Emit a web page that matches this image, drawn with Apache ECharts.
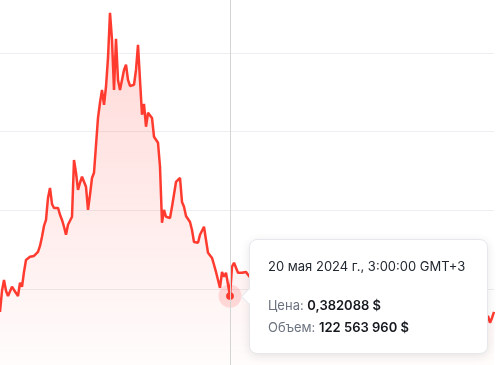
<!DOCTYPE html>
<html>
<head>
<meta charset="utf-8">
<script src="https://cdn.jsdelivr.net/npm/echarts@6/dist/echarts.min.js"></script>
<style>
  html, body { margin: 0; padding: 0; background: #fff; overflow: hidden; }
  #chart { width: 496px; height: 365px; }
</style>
</head>
<body>
<div id="chart"></div>
<script>
// ---- data ----
// hourly points, start: 15 May 2024 08:00 GMT+3 (05:00 UTC)
const startUtcMs = Date.UTC(2024, 4, 15, 5, 0, 0);
const stepHours = 1;
const prices = [
  0.3781, 0.3834, 0.3861, 0.3834, 0.3821, 0.3824, 0.3844, 0.3836, 0.3836, 0.3821,
  0.3854, 0.3844, 0.3881, 0.3911, 0.3906, 0.3919, 0.3916, 0.3921, 0.3921, 0.3931,
  0.3946, 0.3969, 0.3996, 0.4011, 0.4066, 0.4091, 0.4051, 0.4041, 0.4046, 0.4041,
  0.4024, 0.4011, 0.3994, 0.3974, 0.3999, 0.4004, 0.4019, 0.4161, 0.4129, 0.4086,
  0.4104, 0.4119, 0.4116, 0.4094, 0.4036, 0.4074, 0.4116, 0.4129, 0.4129, 0.4266,
  0.4304, 0.4336, 0.4299, 0.4344, 0.4416, 0.4529, 0.4461, 0.4336, 0.4464, 0.4361,
  0.4336, 0.4361, 0.4386, 0.4399, 0.4361, 0.4346, 0.4344, 0.4349, 0.4386, 0.4449,
  0.4361, 0.4274, 0.4301, 0.4244, 0.4279, 0.4281, 0.4266, 0.4219, 0.4224, 0.4204,
  0.4144, 0.4004, 0.4036, 0.4019, 0.4019, 0.4016, 0.4044, 0.4049, 0.4106, 0.4111,
  0.4116, 0.4056, 0.4044, 0.4021, 0.4019, 0.4006, 0.3986, 0.3956, 0.3954, 0.3954,
  0.3974, 0.3976, 0.3994, 0.3961, 0.3929, 0.3924, 0.3916, 0.3899, 0.3881, 0.3861,
  0.3841, 0.3881, 0.3869, 0.3879, 0.3881, 0.382088, 0.3894, 0.3904, 0.3901, 0.3879,
  0.3876, 0.3879, 0.3881, 0.3881, 0.3874,
  0.3868, 0.3859, 0.3872, 0.3881, 0.3864, 0.3850, 0.3857, 0.3843, 0.3836, 0.3849,
  0.3861, 0.3855, 0.3840, 0.3828, 0.3833, 0.3846,
  0.3852, 0.3839, 0.3825, 0.3817, 0.3829, 0.3838, 0.3831, 0.3819, 0.3806, 0.3812,
  0.3824, 0.3835, 0.3827, 0.3814, 0.3801, 0.3795, 0.3808, 0.3817, 0.3803, 0.3792,
  0.3786, 0.3798, 0.3811, 0.3822, 0.3809, 0.3797, 0.3784, 0.3779, 0.3791, 0.3803,
  0.3796, 0.3782, 0.3771, 0.3765, 0.3778, 0.3789, 0.3780, 0.3768, 0.3759, 0.3766,
  0.3777, 0.3784, 0.3773, 0.3762, 0.3755, 0.3749, 0.3761, 0.3772, 0.3768, 0.3757,
  0.3746, 0.3751, 0.3763, 0.3770, 0.3758, 0.3744, 0.3739, 0.3748, 0.3756, 0.3747,
  0.3738, 0.3743, 0.3754, 0.3762, 0.3751, 0.3741, 0.3735, 0.3742, 0.3750, 0.3745,
  0.3736, 0.3731, 0.3740, 0.3749, 0.3757, 0.3746, 0.3737, 0.3744, 0.3752, 0.3758,
  0.3749, 0.3740, 0.3734, 0.3742, 0.3753, 0.3761, 0.3755, 0.3746, 0.3738, 0.3732,
  0.3741, 0.3750, 0.3744, 0.3736, 0.3729, 0.3737, 0.3745, 0.3739, 0.3731, 0.3727,
  0.3735, 0.3742, 0.3738,
  0.3771, 0.3754, 0.3766, 0.3781
];
const hoverIndex = 115;
const hoverVolume = 122563960;
const monthsRu = ['января','февраля','марта','апреля','мая','июня','июля','августа','сентября','октября','ноября','декабря'];

// y-axis range (labels hidden)
const yMin = 0.364088;
const yInterval = 0.0197;
const yMax = yMin + 5 * yInterval;

// ---- build ----
const categories = prices.map((_, i) => startUtcMs + i * stepHours * 3600 * 1000);

function fmtDate(ms) {
  const d = new Date(ms + 3 * 3600 * 1000); // GMT+3
  const pad = n => (n < 10 ? '0' + n : '' + n);
  return d.getUTCDate() + ' ' + monthsRu[d.getUTCMonth()] + ' ' + d.getUTCFullYear() + ' г., ' +
    d.getUTCHours() + ':' + pad(d.getUTCMinutes()) + ':' + pad(d.getUTCSeconds()) + ' GMT+3';
}
function fmtPrice(v) { return String(v).replace('.', ','); }
function fmtVolume(v) { return String(v).replace(/\B(?=(\d{3})+(?!\d))/g, ' '); }

const RED = '#ff3b30';
const chart = echarts.init(document.getElementById('chart'), null, { renderer: 'canvas' });

chart.setOption({
  animation: false,
  grid: { left: 0, right: 2, top: -26, bottom: -3, containLabel: false, outerBoundsMode: 'none' },
  xAxis: {
    type: 'category',
    data: categories,
    boundaryGap: false,
    axisLine: { show: false },
    axisTick: { show: false },
    axisLabel: { show: false },
    splitLine: { show: false }
  },
  yAxis: {
    type: 'value',
    min: yMin,
    max: yMax,
    interval: yInterval,
    axisLine: { show: false },
    axisTick: { show: false },
    axisLabel: { show: false },
    splitLine: { show: true, lineStyle: { color: '#eceef1', width: 1 } }
  },
  tooltip: {
    trigger: 'axis',
    triggerOn: 'none',
    alwaysShowContent: true,
    transitionDuration: 0,
    backgroundColor: '#ffffff',
    borderColor: '#e6e8eb',
    borderWidth: 1,
    padding: 0,
    extraCssText: 'border-radius:8px;box-shadow:0 2px 10px rgba(0,0,0,0.10);width:239px;height:115px;box-sizing:border-box;',
    axisPointer: {
      type: 'line',
      animation: false,
      lineStyle: { color: '#d4d4d4', width: 1, type: 'solid' },
      label: { show: false }
    },
    position: function (pt) { return [pt[0] + 19, pt[1] - 57]; },
    formatter: function (params) {
      const p = params.find(q => q.seriesIndex === 0) || params[0];
      const idx = p.dataIndex;
      const font = "font-family:Inter,'Noto Sans',sans-serif;";
      return '<div style="position:relative;padding:16px 18px;' + font + '">' +
        '<div style="position:absolute;left:-7px;top:51px;width:10px;height:10px;background:#fff;' +
        'border-left:1px solid #e6e8eb;border-bottom:1px solid #e6e8eb;transform:rotate(45deg);"></div>' +
        '<div style="font-size:13px;line-height:20px;color:#222831;">' + fmtDate(categories[idx]) + '</div>' +
        '<div style="margin-top:18px;font-size:13px;line-height:22px;">' +
          '<span style="color:#6b7280;">Цена:</span> ' +
          '<span style="color:#15181e;font-weight:600;">' + fmtPrice(prices[idx]) + ' $</span></div>' +
        '<div style="font-size:13px;line-height:22px;">' +
          '<span style="color:#6b7280;">Объем:</span> ' +
          '<span style="color:#15181e;font-weight:600;">' + fmtVolume(hoverVolume) + ' $</span></div>' +
        '</div>';
    }
  },
  series: [
    {
      type: 'line',
      data: prices,
      z: 3,
      showSymbol: false,
      symbol: 'circle',
      symbolSize: 7,
      itemStyle: { color: RED },
      lineStyle: { color: RED, width: 2.5 },
      emphasis: { disabled: true },
      areaStyle: {
        color: new echarts.graphic.LinearGradient(0, 0, 0, 1, [
          { offset: 0, color: 'rgba(255,59,48,0.29)' },
          { offset: 1, color: 'rgba(255,59,48,0.02)' }
        ])
      }
    },
    {
      type: 'scatter',
      z: 2,
      silent: true,
      symbol: 'circle',
      symbolSize: 23,
      itemStyle: { color: 'rgba(255,59,48,0.2)' },
      data: [[hoverIndex, prices[hoverIndex]]],
      tooltip: { show: false }
    },
    {
      type: 'scatter',
      z: 4,
      silent: true,
      symbol: 'circle',
      symbolSize: 7,
      itemStyle: { color: RED },
      data: [[hoverIndex, prices[hoverIndex]]],
      tooltip: { show: false }
    }
  ]
});

chart.dispatchAction({ type: 'showTip', seriesIndex: 0, dataIndex: hoverIndex });
</script>
</body>
</html>
